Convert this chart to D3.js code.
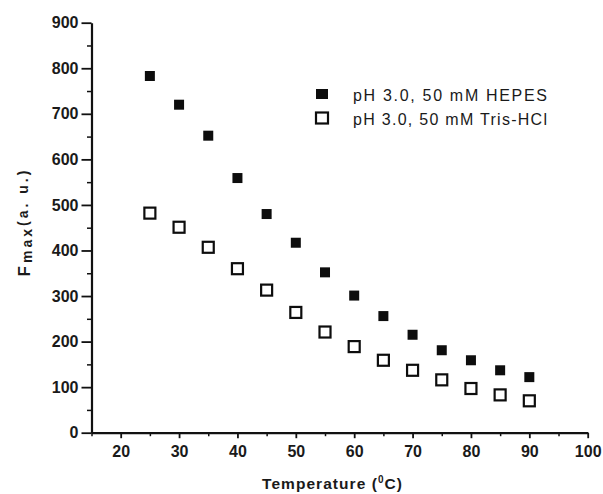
<!DOCTYPE html>
<html>
<head>
<meta charset="utf-8">
<script src="https://cdn.jsdelivr.net/npm/d3@7"></script>
<style>
  body { margin: 0; background: #fff; }
  svg { display: block; font-family: "Liberation Sans", Arial, sans-serif; }
  .axis path, .axis line { stroke: #111; }
  .axis text { fill: #1a1a1a; font-weight: bold; font-size: 16px; font-family: "Liberation Sans", Arial, sans-serif; }
</style>
</head>
<body>
<div id="chart"></div>
<script>
// temperature (°C)
var temperature = [25, 30, 35, 40, 45, 50, 55, 60, 65, 70, 75, 80, 85, 90];
// Fmax, pH 3.0, 50 mM HEPES
var hepes = [783, 720, 652, 559, 480, 417, 352, 301, 256, 215, 181, 159, 137, 122];
// Fmax, pH 3.0, 50 mM Tris-HCl
var tris = [482, 451, 407, 360, 313, 264, 221, 189, 159, 137, 116, 97, 83, 70];

var xMajor = [20, 30, 40, 50, 60, 70, 80, 90, 100];
var xMinor = [15, 25, 35, 45, 55, 65, 75, 85, 95];
var yMajor = [0, 100, 200, 300, 400, 500, 600, 700, 800, 900];
var yMinor = [50, 150, 250, 350, 450, 550, 650, 750, 850];

var seriesNames = ["pH 3.0, 50 mM HEPES", "pH 3.0, 50 mM Tris-HCl"];

var config = {
  "width": 603,
  "height": 494,
  "left": 91.5,
  "right": 587.7,
  "top": 22.7,
  "bottom": 432.7
};

var svg = d3.select("#chart")
  .append("svg")
  .attr("width", config.width)
  .attr("height", config.height);

var x = d3.scaleLinear().domain([15, 100]).range([config.left, config.right]);
var y = d3.scaleLinear().domain([0, 900]).range([config.bottom, config.top]);

// minor ticks first, axes drawn on top
svg.append("g")
  .attr("class", "axis")
  .attr("transform", "translate(0," + config.bottom + ")")
  .call(d3.axisBottom(x).tickValues(xMinor).tickSize(3.5).tickSizeOuter(0).tickFormat(""))
  .call(g => g.select(".domain").remove())
  .selectAll("line").attr("stroke-width", 1.5);

svg.append("g")
  .attr("class", "axis")
  .attr("transform", "translate(" + config.left + ",0)")
  .call(d3.axisLeft(y).tickValues(yMinor).tickSize(4.5).tickSizeOuter(0).tickFormat(""))
  .call(g => g.select(".domain").remove())
  .selectAll("line").attr("stroke-width", 1.5);

var xAxis = svg.append("g")
  .attr("class", "axis")
  .attr("transform", "translate(0," + config.bottom + ")")
  .call(d3.axisBottom(x).tickValues(xMajor).tickSize(5.5).tickSizeOuter(0).tickPadding(7));
xAxis.select(".domain").attr("stroke-width", 2.2);
xAxis.selectAll("line").attr("stroke-width", 1.8);

var yAxis = svg.append("g")
  .attr("class", "axis")
  .attr("transform", "translate(" + config.left + ",0)")
  .call(d3.axisLeft(y).tickValues(yMajor).tickSize(10).tickSizeOuter(0).tickPadding(3));
yAxis.select(".domain").attr("stroke-width", 2.2);
yAxis.selectAll("line").attr("stroke-width", 1.8);

// markers
var filledSize = 10, openSize = 11;

svg.append("g")
  .selectAll("rect")
  .data(temperature.map((t, i) => ({ t: t, v: hepes[i] })))
  .enter()
  .append("rect")
  .attr("x", d => x(d.t) - filledSize / 2)
  .attr("y", d => y(d.v) - filledSize / 2)
  .attr("width", filledSize)
  .attr("height", filledSize)
  .style("fill", "#0d0d0d");

svg.append("g")
  .selectAll("rect")
  .data(temperature.map((t, i) => ({ t: t, v: tris[i] })))
  .enter()
  .append("rect")
  .attr("x", d => x(d.t) - openSize / 2)
  .attr("y", d => y(d.v) - openSize / 2)
  .attr("width", openSize)
  .attr("height", openSize)
  .style("fill", "#fff")
  .style("stroke", "#0d0d0d")
  .style("stroke-width", 2.2);

// legend
var legend = svg.append("g").attr("transform", "translate(322,0)");
legend.append("rect")
  .attr("x", -6).attr("y", 89).attr("width", 12).attr("height", 10)
  .style("fill", "#0d0d0d");
legend.append("rect")
  .attr("x", -6).attr("y", 112.5).attr("width", 12).attr("height", 11)
  .style("fill", "#fff").style("stroke", "#0d0d0d").style("stroke-width", 2.2);
legend.selectAll("text")
  .data(seriesNames)
  .enter()
  .append("text")
  .attr("x", 31)
  .attr("y", (d, i) => 101 + i * 23.5)
  .attr("textLength", 194)
  .attr("lengthAdjust", "spacing")
  .style("font-size", "16px")
  .style("fill", "#1a1a1a")
  .text(d => d);

// x axis title
var xt = svg.append("text")
  .attr("x", 332)
  .attr("y", 489)
  .attr("text-anchor", "middle")
  .attr("textLength", 140)
  .attr("lengthAdjust", "spacing")
  .style("font-size", "15.5px")
  .style("font-weight", "bold")
  .style("fill", "#1a1a1a");
xt.append("tspan").text("Temperature (");
xt.append("tspan").attr("dy", -6).style("font-size", "10px").text("0");
xt.append("tspan").attr("dy", 6).text("C)");

// y axis title
var yt = svg.append("text")
  .attr("transform", "translate(30,222) rotate(-90)")
  .attr("text-anchor", "middle")
  .style("font-weight", "bold")
  .style("fill", "#1a1a1a");
yt.append("tspan").style("font-size", "17px").style("letter-spacing", "3px").text("F");
yt.append("tspan").attr("dy", 2).style("font-size", "14px").style("letter-spacing", "3px").text("max");
yt.append("tspan").attr("dy", -4).style("font-size", "14px").style("letter-spacing", "3px").text("(a. u.)");
</script>
</body>
</html>
